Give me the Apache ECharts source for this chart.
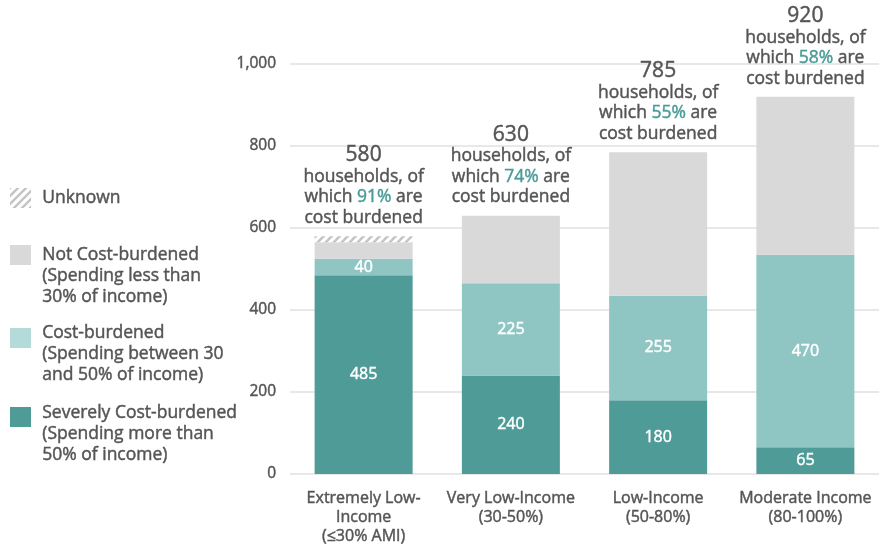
<!DOCTYPE html>
<html>
<head>
<meta charset="utf-8">
<script src="https://cdn.jsdelivr.net/npm/echarts@6/dist/echarts.min.js"></script>
<style>html,body{margin:0;padding:0;background:#fff}#c{width:890px;height:546px}</style>
</head>
<body>
<div id="c"></div>
<script>
var categories = ['Extremely Low-\nIncome\n(\u226430% AMI)', 'Very Low-Income\n(30-50%)', 'Low-Income\n(50-80%)', 'Moderate Income\n(80-100%)'];
var severe = [485, 240, 180, 65];
var burdened = [40, 225, 255, 470];
var notBurdened = [40, 165, 350, 385];
var unknown = [15, 0, 0, 0];
var totals = [580, 630, 785, 920];
var pctBurdened = ['91%', '74%', '55%', '58%'];
var yTicks = [0, 200, 400, 600, 800, 1000];

var FONT = '"Open Sans"';
var TXT = '#555555';
var C_SEV = '#4f9b98';
var C_BUR = '#8fc6c4';
var C_BUR_LEG = '#b3dbda';
var C_NOT = '#d9d9d9';
var C_PCT = '#4a9c98';
var BW = 0.45;

function hatch() {
  var cv = document.createElement('canvas');
  cv.width = 8; cv.height = 8;
  var g = cv.getContext('2d');
  g.fillStyle = '#ffffff'; g.fillRect(0, 0, 8, 8);
  g.strokeStyle = '#c4c4c4'; g.lineWidth = 2.4;
  g.beginPath();
  g.moveTo(-2, 10); g.lineTo(10, -2);
  g.moveTo(-6, 6); g.lineTo(6, -6);
  g.moveTo(2, 14); g.lineTo(14, 2);
  g.stroke();
  return cv;
}
var hatchPattern = { image: hatch(), repeat: 'repeat' };

var chart = echarts.init(document.getElementById('c'));

var legendItems = [
  { name: 'Unknown', fill: hatchPattern, top: 188, text: 'Unknown', textTop: 188 },
  { name: 'Not Cost-burdened', fill: C_NOT, top: 245, text: 'Not Cost-burdened\n(Spending less than\n30% of income)', textTop: 245 },
  { name: 'Cost-burdened', fill: C_BUR_LEG, top: 328, text: 'Cost-burdened\n(Spending between 30\nand 50% of income)', textTop: 323 },
  { name: 'Severely Cost-burdened', fill: C_SEV, top: 407, text: 'Severely Cost-burdened\n(Spending more than\n50% of income)', textTop: 403 }
];
var graphics = [];
legendItems.forEach(function (it) {
  graphics.push({ type: 'rect', left: 10, top: it.top, shape: { width: 21, height: 20 }, style: { fill: it.fill } });
  graphics.push({ type: 'text', left: 42, top: it.textTop, style: { text: it.text, font: '17.5px ' + FONT, fill: TXT, stroke: TXT, lineWidth: BW, lineHeight: 21 } });
});

function totalLabel(p) {
  var i = p.dataIndex;
  return '{n|' + totals[i] + '}\n{t|households, of}\n{t|which }{p|' + pctBurdened[i] + '}{t| are}\n{t|cost burdened}';
}

var segLabel = { show: true, position: 'inside', color: '#ffffff', fontSize: 16, fontFamily: FONT, textBorderColor: '#ffffff', textBorderWidth: BW };

chart.setOption({
  animation: false,
  textStyle: { fontFamily: FONT },
  grid: { left: 290, right: 11, top: 64, bottom: 72 },
  graphic: graphics,
  xAxis: {
    type: 'category', data: categories,
    axisLine: { show: false }, axisTick: { show: false },
    axisLabel: { interval: 0, color: TXT, fontSize: 16, fontFamily: FONT, lineHeight: 19, margin: 15, textBorderColor: TXT, textBorderWidth: BW }
  },
  yAxis: {
    type: 'value', min: 0, max: 1000, interval: 200,
    axisLine: { show: false }, axisTick: { show: false },
    splitLine: { lineStyle: { color: '#e0e0e0', width: 1.5 } },
    axisLabel: { color: TXT, fontSize: 15.5, fontFamily: FONT, margin: 14, textBorderColor: TXT, textBorderWidth: BW,
      formatter: function (v) { return yTicks.indexOf(v) >= 0 ? v.toLocaleString('en-US') : ''; } }
  },
  series: [
    { name: 'Severely Cost-burdened', type: 'bar', stack: 's', barWidth: 98, data: severe,
      itemStyle: { color: C_SEV }, label: segLabel },
    { name: 'Cost-burdened', type: 'bar', stack: 's', barWidth: 98, data: burdened,
      itemStyle: { color: C_BUR }, label: segLabel },
    { name: 'Not Cost-burdened', type: 'bar', stack: 's', barWidth: 98, data: notBurdened,
      itemStyle: { color: C_NOT } },
    { name: 'Unknown', type: 'bar', stack: 's', barWidth: 98, data: unknown,
      itemStyle: { color: hatchPattern } },
    { name: 'Total', type: 'bar', barWidth: 98, barGap: '-100%', data: totals, silent: true,
      itemStyle: { color: 'rgba(0,0,0,0)' },
      label: { show: true, position: 'top', distance: 8, formatter: totalLabel, align: 'center',
        rich: {
          n: { fontSize: 21, color: TXT, fontFamily: FONT, lineHeight: 23, textBorderColor: TXT, textBorderWidth: BW },
          t: { fontSize: 17.5, color: TXT, fontFamily: FONT, lineHeight: 20.5, textBorderColor: TXT, textBorderWidth: BW },
          p: { fontSize: 17.5, color: C_PCT, fontFamily: FONT, lineHeight: 20.5, textBorderColor: C_PCT, textBorderWidth: BW }
        } } }
  ]
});
</script>
</body>
</html>
